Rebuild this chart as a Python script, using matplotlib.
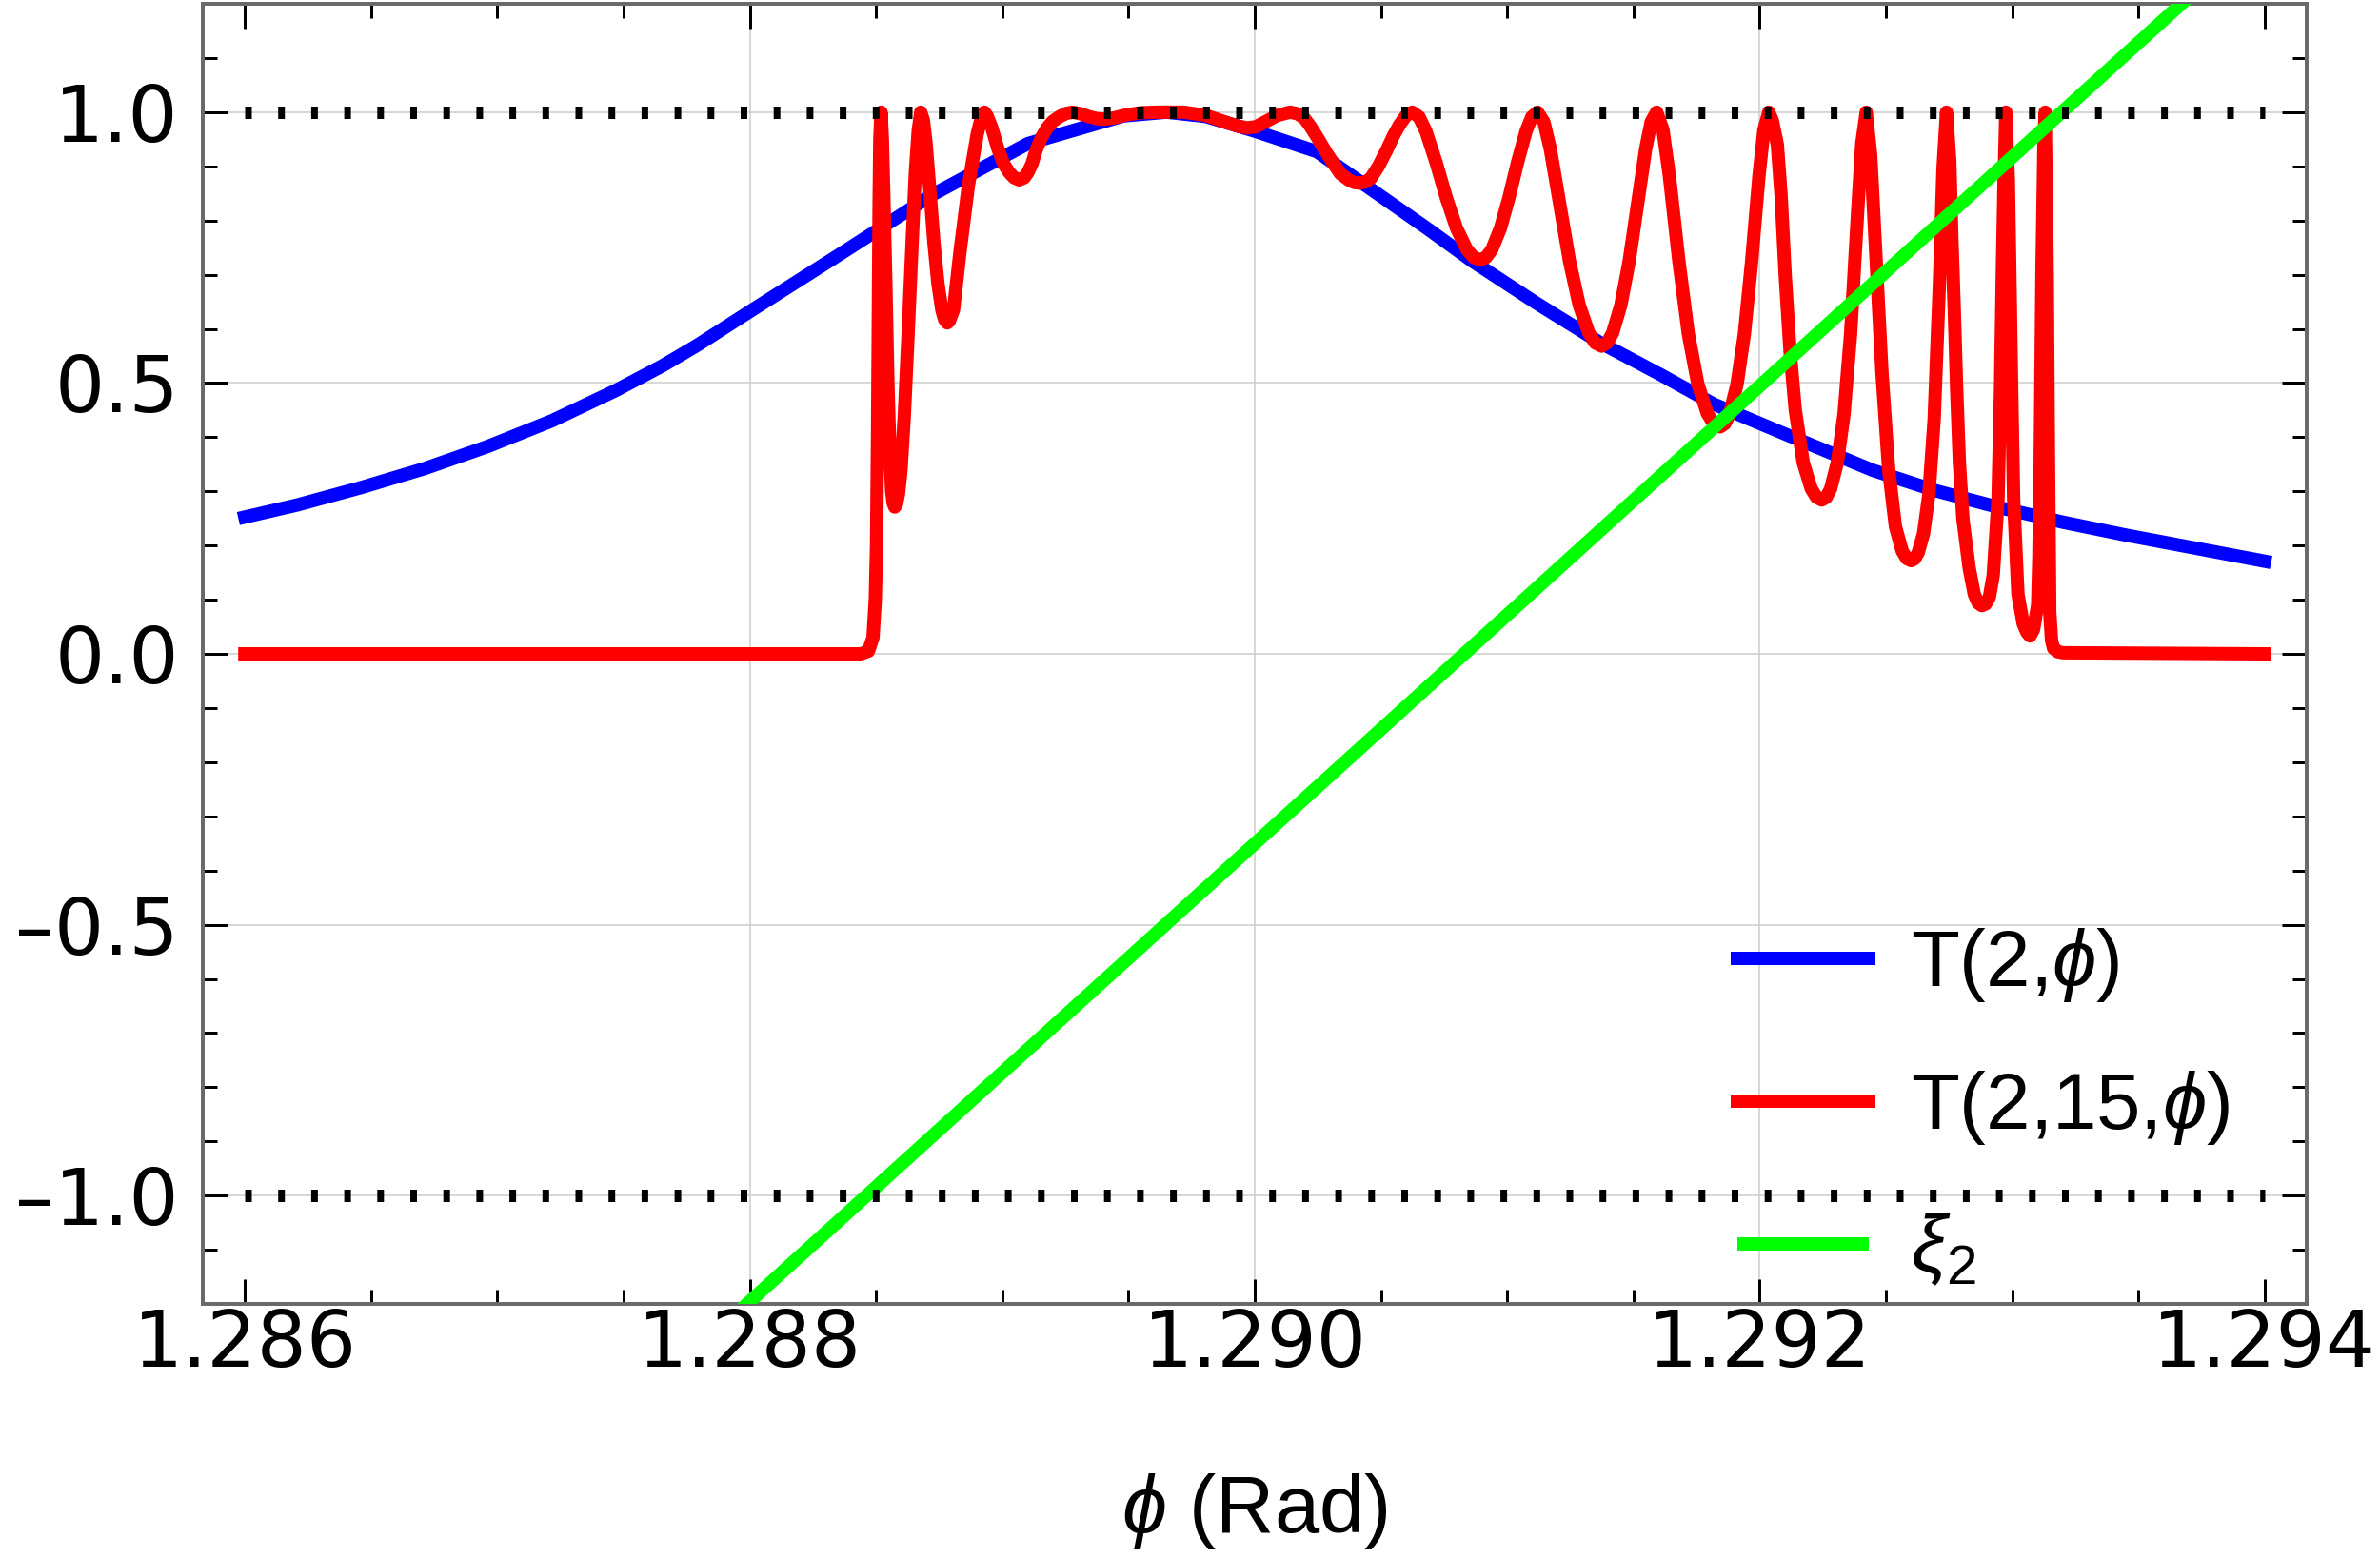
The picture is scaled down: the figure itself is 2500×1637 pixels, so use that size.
import matplotlib
matplotlib.use("Agg")
import matplotlib.pyplot as plt
from matplotlib.ticker import FixedLocator, MultipleLocator, FixedFormatter
from matplotlib.font_manager import FontProperties

# ---------------- data ----------------
phi_T1 = [1.286000, 1.286209, 1.286461, 1.286712, 1.286963, 1.287215, 1.287466,
          1.287655, 1.287793, 1.288000, 1.288348, 1.288725, 1.289102, 1.289480, 1.289650,
          1.289806, 1.290000, 1.290247, 1.290435, 1.290687, 1.290863, 1.291114,
          1.291366, 1.291617, 1.291818, 1.292120, 1.292447, 1.292698, 1.292950,
          1.293201, 1.293453, 1.293704, 1.294000]
T1 = [0.2525, 0.275, 0.307, 0.342, 0.383, 0.430, 0.4855,
      0.532, 0.570, 0.632, 0.735, 0.848, 0.942, 0.993, 1.000,
      0.992, 0.965, 0.927, 0.866, 0.784, 0.7245, 0.648,
      0.575, 0.513, 0.461, 0.402, 0.339, 0.301, 0.270,
      0.243, 0.219, 0.197, 0.171]

phi_T15 = [
    1.286000, 1.288440, 1.288470, 1.288488, 1.288497, 1.288502, 1.288506, 1.288509, 1.288512, 1.288515,
    1.288520, 1.288525, 1.288530, 1.288539, 1.288547, 1.288555, 1.288562, 1.288568, 1.288574, 1.288581,
    1.288589, 1.288599, 1.288612, 1.288627, 1.288643, 1.288656, 1.288667, 1.288677, 1.2886875, 1.288698,
    1.2887138, 1.2887295, 1.2887453, 1.288761, 1.2887715, 1.288782, 1.288790, 1.288807, 1.288832, 1.288866,
    1.288901, 1.288916, 1.288929, 1.288940, 1.288958, 1.288983, 1.289005, 1.289027, 1.289047, 1.289067,
    1.289087, 1.289102, 1.289118, 1.289134, 1.289155, 1.289178, 1.289200, 1.289228, 1.289255, 1.289278,
    1.289310, 1.289341, 1.289375, 1.289404, 1.289440, 1.289492, 1.289550, 1.289618, 1.289718, 1.289806,
    1.289850, 1.289894, 1.289935, 1.289970, 1.290005, 1.290045, 1.290090, 1.290140, 1.290170, 1.290196,
    1.290220, 1.290247, 1.290280, 1.290309, 1.290340, 1.290372, 1.290395, 1.290416, 1.290438, 1.290460,
    1.290490, 1.290523, 1.290550, 1.290574, 1.290600, 1.290624, 1.290651, 1.290678, 1.2907185, 1.290759,
    1.2907995, 1.290840, 1.290867, 1.290894, 1.2909166, 1.2909392, 1.2909731, 1.291007, 1.2910409, 1.2910748,
    1.2910974, 1.291120, 1.2911454, 1.2911708, 1.2912089, 1.291247, 1.2912851, 1.2913232, 1.2913486, 1.291374,
    1.2913958, 1.2914176, 1.2914503, 1.291483, 1.2915157, 1.2915484, 1.2915702, 1.291592, 1.2916171, 1.2916422,
    1.2916799, 1.2917175, 1.2917552, 1.2917928, 1.2918179, 1.291843, 1.2918623, 1.2918816, 1.2919105, 1.2919395,
    1.2919684, 1.2919974, 1.2920167, 1.292036, 1.292050, 1.292070, 1.292085, 1.292101, 1.292120, 1.292141,
    1.2921725, 1.292204, 1.292225, 1.292246, 1.2922636, 1.2922812, 1.2923076, 1.292334, 1.2923604, 1.2923868,
    1.2924044, 1.292422, 1.2924398, 1.2924576, 1.2924843, 1.292511, 1.2925377, 1.2925644, 1.2925822, 1.292600,
    1.292614, 1.292628, 1.292649, 1.292670, 1.292691, 1.292712, 1.292726, 1.292740, 1.292753, 1.292761,
    1.292771, 1.292780, 1.292791, 1.292805, 1.292830, 1.292850, 1.292865, 1.292880, 1.292895, 1.292910,
    1.292925, 1.292944, 1.292954, 1.292961, 1.292968, 1.292975, 1.292985, 1.292991, 1.292998, 1.293006,
    1.293023, 1.293044, 1.293058, 1.293071, 1.293085, 1.293101, 1.293106, 1.293111, 1.293118, 1.293126,
    1.293131, 1.293139, 1.293144, 1.293149, 1.293156, 1.293164, 1.293180, 1.293201, 1.294000]
T15 = [
    0.000, 0.000, 0.005, 0.030, 0.100, 0.200, 0.400, 0.600, 0.820, 0.950,
    1.000, 0.950, 0.860, 0.680, 0.500, 0.370, 0.300, 0.278, 0.271, 0.276,
    0.295, 0.340, 0.440, 0.590, 0.760, 0.890, 0.965, 1.000, 0.985, 0.943,
    0.852, 0.758, 0.683, 0.634, 0.617, 0.611, 0.614, 0.635, 0.740, 0.865,
    0.960, 0.988, 1.000, 0.993, 0.972, 0.932, 0.905, 0.889, 0.879, 0.875,
    0.879, 0.889, 0.905, 0.930, 0.953, 0.971, 0.983, 0.992, 0.998, 1.000,
    0.997, 0.992, 0.988, 0.987, 0.989, 0.995, 0.999, 1.000, 1.000, 0.994,
    0.987, 0.980, 0.974, 0.971, 0.973, 0.983, 0.994, 1.000, 0.997, 0.989,
    0.974, 0.954, 0.928, 0.907, 0.886, 0.875, 0.870, 0.869, 0.871, 0.878,
    0.900, 0.930, 0.957, 0.977, 0.994, 1.000, 0.991, 0.965, 0.907, 0.842,
    0.7855, 0.7465, 0.732, 0.727, 0.732, 0.7465, 0.7855, 0.842, 0.907, 0.965,
    0.991, 1.000, 0.982, 0.932, 0.828, 0.7245, 0.644, 0.5924, 0.574, 0.568,
    0.574, 0.5924, 0.644, 0.7245, 0.828, 0.932, 0.982, 1.000, 0.967, 0.883,
    0.7254, 0.5906, 0.498, 0.4437, 0.425, 0.419, 0.425, 0.4437, 0.498, 0.5906,
    0.7254, 0.883, 0.967, 1.000, 0.985, 0.940, 0.845, 0.700, 0.561, 0.450,
    0.353, 0.305, 0.289, 0.284, 0.289, 0.305, 0.353, 0.442, 0.592, 0.806,
    0.942, 1.000, 0.920, 0.760, 0.520, 0.340, 0.235, 0.190, 0.176, 0.172,
    0.1756, 0.187, 0.222, 0.2935, 0.432, 0.685, 0.895, 1.000, 0.909, 0.770,
    0.631, 0.492, 0.353, 0.249, 0.158, 0.110, 0.094, 0.089, 0.092, 0.105,
    0.145, 0.284, 0.492, 0.700, 0.874, 1.000, 0.874, 0.700, 0.492, 0.284,
    0.110, 0.055, 0.040, 0.033, 0.045, 0.090, 0.180, 0.353, 0.700, 0.943,
    1.000, 0.700, 0.353, 0.077, 0.025, 0.010, 0.004, 0.002, 0.000]

phi_xi = [1.28780, 1.29385]
xi2 = [-1.280, 1.276]

bound_phi = [1.286, 1.294]
bound_levels = [1.0, -1.0]

x_ticks = [1.286, 1.288, 1.290, 1.292, 1.294]
x_tick_labels = ["1.286", "1.288", "1.290", "1.292", "1.294"]
y_ticks = [-1.0, -0.5, 0.0, 0.5, 1.0]
y_tick_labels = ["\u20131.0", "\u20130.5", "0.0", "0.5", "1.0"]
x_grid = [1.288, 1.290, 1.292]
y_grid = [-1.0, -0.5, 0.0, 0.5, 1.0]
legend_labels = [r"T(2,$\phi$)", r"T(2,15,$\phi$)", r"$\xi_2$"]
x_label = r"$\phi$ (Rad)"

# ---------------- style ----------------
plt.rcParams['mathtext.fontset'] = 'custom'
plt.rcParams['mathtext.rm'] = 'Liberation Sans'
plt.rcParams['mathtext.it'] = 'Liberation Sans:italic'
plt.rcParams['mathtext.cal'] = 'Liberation Sans'

DPI = 100
PX = 72.0 / DPI  # points per pixel

fig = plt.figure(figsize=(25, 16.37), dpi=DPI)
ax = fig.add_axes([213 / 2500, (1637 - 1370) / 1637, (2423 - 213) / 2500, (1370 - 4) / 1637])

ax.set_xlim(1.286 - 0.008 / 48, 1.294 + 0.008 / 48)
ax.set_ylim(-1.2, 1.2)

lw = 14 * PX
grid_kw = dict(color="#cccccc", lw=1.5 * PX, zorder=0.5)
for gx in x_grid:
    ax.axvline(gx, **grid_kw)
for gy in y_grid:
    ax.axhline(gy, **grid_kw)

ax.plot(phi_T1, T1, color="#0000ff", lw=lw, solid_capstyle="projecting",
        solid_joinstyle="round", label=legend_labels[0], zorder=2)
ax.plot(phi_T15, T15, color="#ff0000", lw=lw, solid_capstyle="projecting",
        solid_joinstyle="round", label=legend_labels[1], zorder=3)
ax.plot(phi_xi, xi2, color="#00ff00", lw=lw, solid_capstyle="butt",
        label=legend_labels[2], zorder=4)

dot_lw = 13 * PX
for lev in bound_levels:
    ax.plot(bound_phi, [lev, lev], color="black", lw=dot_lw,
            linestyle=(0, (7 / 13, 27.7 / 13)), dash_capstyle="butt", zorder=5)

# ticks
ax.xaxis.set_major_locator(FixedLocator(x_ticks))
ax.xaxis.set_major_formatter(FixedFormatter(x_tick_labels))
ax.xaxis.set_minor_locator(MultipleLocator(0.0005))
ax.yaxis.set_major_locator(FixedLocator(y_ticks))
ax.yaxis.set_major_formatter(FixedFormatter(y_tick_labels))
ax.yaxis.set_minor_locator(MultipleLocator(0.1))

ax.tick_params(which="both", direction="in", top=True, right=True,
               color="black", width=3 * PX)
ax.tick_params(which="major", length=26 * PX, labelsize=59)
ax.tick_params(which="minor", length=15 * PX)
ax.tick_params(axis="x", which="major", pad=3)
ax.tick_params(axis="y", which="major", pad=18)
for lab in ax.get_xticklabels() + ax.get_yticklabels():
    lab.set_fontfamily("DejaVu Sans")

for sp in ax.spines.values():
    sp.set_color("#6a6a6a")
    sp.set_linewidth(4 * PX)

ax.set_xlabel(x_label, fontsize=61, fontfamily="Liberation Sans")
ax.xaxis.set_label_coords(0.5, (1370 - 1610) / 1366)
ax.xaxis.label.set_va("baseline")

leg = ax.legend(loc="upper left", bbox_to_anchor=((1825 - 213) / 2210, (1370 - 973) / 1366),
                frameon=False, borderpad=0, borderaxespad=0,
                handlelength=1.657, handletextpad=0.53, labelspacing=0.82,
                prop=FontProperties(family="Liberation Sans", size=60))

fig.savefig("out.png", dpi=DPI, facecolor="white")
